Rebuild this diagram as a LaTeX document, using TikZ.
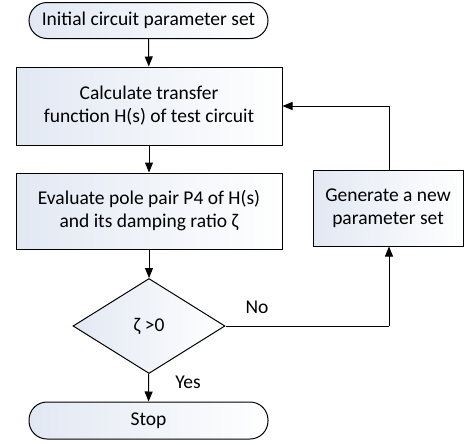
\documentclass[tikz,border=0pt]{standalone}
\usepackage{fontspec}
\setmainfont{Carlito}
\usetikzlibrary{arrows.meta,shapes.geometric}
\definecolor{boxfillA}{RGB}{226,232,243}
\tikzset{
  base/.style={draw=black, line width=1pt, left color=boxfillA, right color=white, align=center, font=\fontsize{19.5}{23}\selectfont, inner sep=0pt},
  term/.style={base, rectangle, rounded corners=18pt},
  proc/.style={base, rectangle},
  decis/.style={base, diamond, inner sep=0pt},
  arr/.style={line width=1pt, -{Triangle[length=10pt,width=8pt]}},
  lbl/.style={font=\fontsize{19.5}{23}\selectfont, inner sep=0pt}
}
\begin{document}
\begin{tikzpicture}[x=1pt,y=1pt]
\useasboundingbox (0,0) rectangle (464,-445);
\node[term, minimum width=239pt, minimum height=36pt] (start) at (148.5,-20.5) {Initial circuit parameter set};
\node[proc, minimum width=266pt, minimum height=78pt] (calc) at (149,-106) {Calculate transfer\\function H(s) of test circuit};
\node[proc, minimum width=266pt, minimum height=76pt] (eval) at (149,-211) {Evaluate pole pair P4 of H(s)\\and its damping ratio ζ};
\node[decis, minimum width=152pt, minimum height=95pt] (dec) at (149,-326) {ζ >0};
\node[term, minimum width=239pt, minimum height=37pt] (stop) at (148.5,-420.5) {Stop};
\node[proc, minimum width=150pt, minimum height=76pt] (gen) at (388,-208) {Generate a new\\parameter set};
\coordinate (c1) at (389,-326);
\coordinate (c2) at (389,-106);
\draw[arr] (start) -- (calc);
\draw[arr] (calc) -- (eval);
\draw[arr] (eval) -- (dec);
\draw[arr] (dec) -- (stop);
\draw[line width=1pt] (dec.east) -- (c1);
\draw[arr] (c1) -- (gen.south -| c1);
\draw[line width=1pt] (gen.north -| c1) -- (c2);
\draw[arr] (c2) -- (calc.east);
\node[lbl] (no) at (257,-307) {No};
\node[lbl] (yes) at (188,-382) {Yes};
\end{tikzpicture}
\end{document}
